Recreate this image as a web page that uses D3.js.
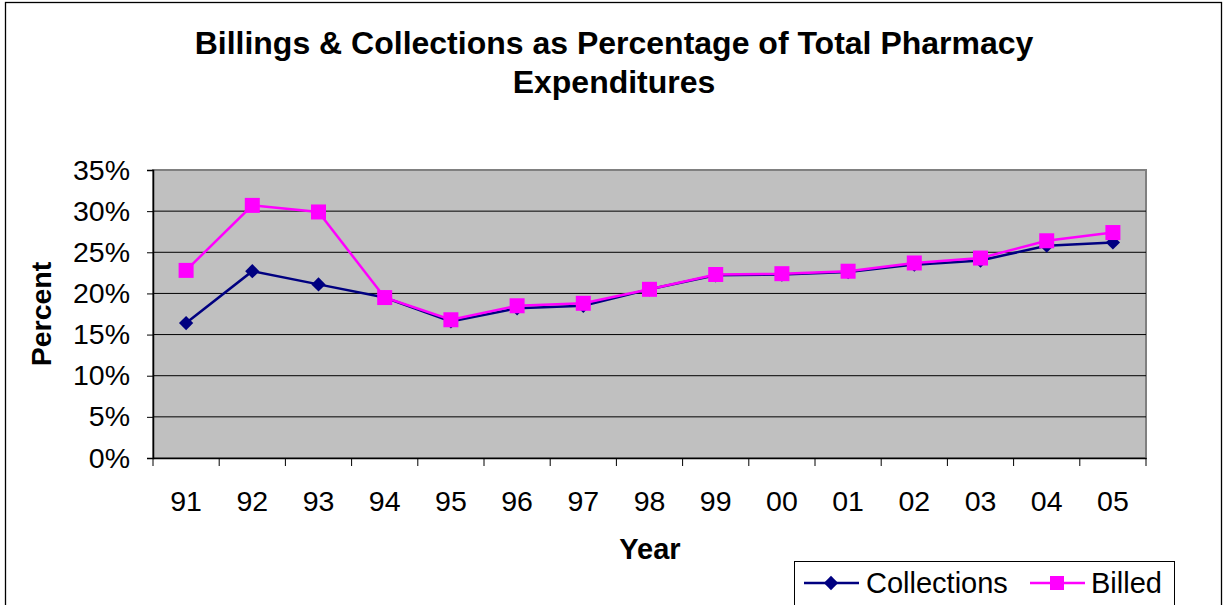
<!DOCTYPE html>
<html><head><meta charset="utf-8">
<script src="https://cdn.jsdelivr.net/npm/d3@7"></script>
<style>body{margin:0;background:#fff}svg{display:block;font-family:"Liberation Sans",Arial,sans-serif}</style>
</head><body>
<svg id="c" width="1224" height="605"></svg>
<script>
const years = ["91","92","93","94","95","96","97","98","99","00","01","02","03","04","05"];
const collections = [16.4,22.7,21.1,19.5,16.6,18.2,18.5,20.5,22.2,22.3,22.6,23.5,24.0,25.8,26.2];
const billed = [22.8,30.7,29.9,19.5,16.8,18.5,18.8,20.5,22.3,22.4,22.7,23.7,24.3,26.4,27.4];
const yTicks = [0,5,10,15,20,25,30,35];

const FF = "Liberation Sans, Arial, sans-serif";
const svg = d3.select("#c");
svg.append("rect").attr("x",5.5).attr("y",2.5).attr("width",1216).attr("height",620).attr("fill","#fff").attr("stroke","#000").attr("stroke-width",1.3);

const L=153,R=1146,T=170,B=458;
const x = d3.scaleBand().domain(years).range([L,R]);
const y = d3.scaleLinear().domain([0,35]).range([B,T]);

svg.append("rect").attr("x",L).attr("y",T).attr("width",R-L).attr("height",B-T).attr("fill","#C0C0C0").attr("stroke","#808080").attr("stroke-width",2);

svg.append("g").selectAll("line").data(yTicks.filter(d=>d>0&&d<35)).join("line")
  .attr("x1",L).attr("x2",R).attr("y1",d=>y(d)).attr("y2",d=>y(d)).attr("stroke","#000").attr("stroke-width",1);

// y axis
const ya = svg.append("g").attr("transform",`translate(${L},0)`)
  .call(d3.axisLeft(y).tickValues(yTicks).tickFormat(d=>d+"%").tickSize(6).tickPadding(17));
ya.select(".domain").attr("stroke","#000").attr("stroke-width",1.5);
ya.selectAll("line").attr("stroke","#000");
ya.selectAll("text").attr("font-size",28.5).attr("fill","#000").attr("font-family",FF);

// x axis
const xa = svg.append("g").attr("transform",`translate(0,${B})`)
  .call(d3.axisBottom(x).tickSize(0).tickPadding(33));
xa.select(".domain").attr("stroke","#000").attr("stroke-width",1.5);
xa.selectAll("text").attr("font-size",28.5).attr("fill","#000").attr("font-family",FF);
svg.append("g").selectAll("line").data(years.concat(["end"])).join("line")
  .attr("x1",(d,i)=>L+i*x.step()).attr("x2",(d,i)=>L+i*x.step()).attr("y1",B).attr("y2",B+8).attr("stroke","#000").attr("stroke-width",1);

const cx = d=>x(d)+x.bandwidth()/2;
const line = d3.line().x((d,i)=>cx(years[i])).y(d=>y(d));

svg.append("path").datum(collections).attr("d",line).attr("fill","none").attr("stroke","#000080").attr("stroke-width",2.5);
svg.append("g").selectAll("path").data(collections).join("path")
  .attr("d",d3.symbol(d3.symbolDiamond2 || d3.symbolDiamond,130))
  .attr("transform",(d,i)=>`translate(${cx(years[i])},${y(d)})`)
  .attr("fill","#000080");

svg.append("path").datum(billed).attr("d",line).attr("fill","none").attr("stroke","#FF00FF").attr("stroke-width",2.5);
svg.append("g").selectAll("rect").data(billed).join("rect")
  .attr("x",(d,i)=>cx(years[i])-7.5).attr("y",d=>y(d)-7.5).attr("width",15).attr("height",15).attr("fill","#FF00FF");

// title
const title = svg.append("text").attr("text-anchor","middle").attr("font-weight","bold").attr("font-size",32).attr("fill","#000");
title.append("tspan").attr("x",614).attr("y",54).text("Billings & Collections as Percentage of Total Pharmacy");
title.append("tspan").attr("x",614).attr("y",93).text("Expenditures");

svg.append("text").attr("x",650).attr("y",559).attr("text-anchor","middle").attr("font-weight","bold").attr("font-size",29).text("Year");
svg.append("text").attr("transform","translate(51,314) rotate(-90)").attr("text-anchor","middle").attr("font-weight","bold").attr("font-size",28.5).text("Percent");

// legend
const lg = svg.append("g");
lg.append("rect").attr("x",794.5).attr("y",561.5).attr("width",380).attr("height",48).attr("fill","#fff").attr("stroke","#000").attr("stroke-width",1);
lg.append("line").attr("x1",804).attr("x2",859).attr("y1",583).attr("y2",583).attr("stroke","#000080").attr("stroke-width",2.5);
lg.append("path").attr("d",d3.symbol(d3.symbolDiamond2 || d3.symbolDiamond,130)).attr("transform","translate(831,583)").attr("fill","#000080");
lg.append("text").attr("x",866).attr("y",593).attr("font-size",29).text("Collections");
lg.append("line").attr("x1",1030).attr("x2",1085).attr("y1",583).attr("y2",583).attr("stroke","#FF00FF").attr("stroke-width",2.5);
lg.append("rect").attr("x",1050).attr("y",576).attr("width",14).attr("height",14).attr("fill","#FF00FF");
lg.append("text").attr("x",1091).attr("y",593).attr("font-size",29).text("Billed");
</script>
</body></html>
